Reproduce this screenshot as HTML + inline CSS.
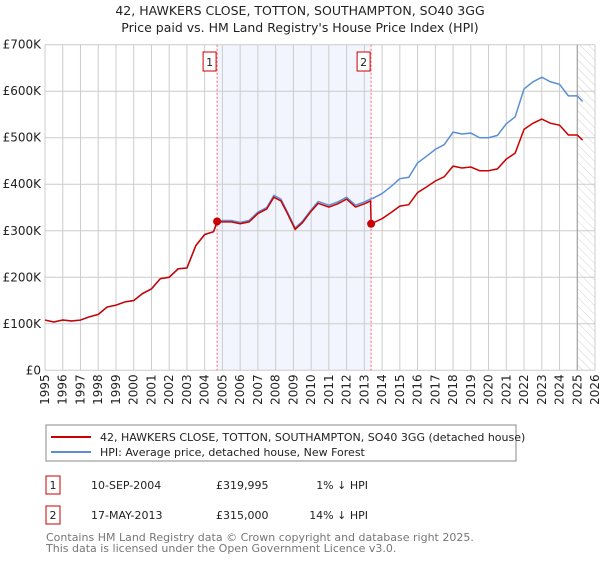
<!DOCTYPE html>
<html><head><meta charset="utf-8"><style>
body{margin:0;background:#fff;font-family:"DejaVu Sans","Liberation Sans",sans-serif;}
svg text{font-family:"DejaVu Sans","Liberation Sans",sans-serif;}
</style></head><body>
<svg id="chart" width="600" height="560" viewBox="0 0 600 560">
<defs><pattern id="hatch" width="6" height="6" patternUnits="userSpaceOnUse" patternTransform="rotate(-45)"><line x1="0" y1="0" x2="0" y2="6" stroke="#c8c8c8" stroke-width="0.8"/></pattern></defs>
<text x="300" y="15" text-anchor="middle" font-size="12.5" fill="#222">42, HAWKERS CLOSE, TOTTON, SOUTHAMPTON, SO40 3GG</text>
<text x="300" y="32" text-anchor="middle" font-size="12.5" fill="#222">Price paid vs. HM Land Registry's House Price Index (HPI)</text>
<g id="plot"></g>
<g id="legend">
<rect x="46" y="425" width="470" height="36" fill="#fff" stroke="#888"/>
<line x1="51" y1="437" x2="91" y2="437" stroke="#cc0000" stroke-width="2"/>
<text x="100" y="441" font-size="11" fill="#222">42, HAWKERS CLOSE, TOTTON, SOUTHAMPTON, SO40 3GG (detached house)</text>
<line x1="51" y1="452" x2="91" y2="452" stroke="#5b8fd4" stroke-width="2"/>
<text x="100" y="456" font-size="11" fill="#222">HPI: Average price, detached house, New Forest</text>
</g>
<g font-size="11" fill="#222">
<rect x="46" y="476" width="14" height="18" fill="#fff" stroke="#cc0000"/>
<text x="53" y="489" text-anchor="middle">1</text>
<text x="91" y="489">10-SEP-2004</text>
<text x="216" y="489">£319,995</text>
<text x="368" y="489" text-anchor="end">1% ↓ HPI</text>
<rect x="46" y="506" width="14" height="18" fill="#fff" stroke="#cc0000"/>
<text x="53" y="519" text-anchor="middle">2</text>
<text x="91" y="519">17-MAY-2013</text>
<text x="216" y="519">£315,000</text>
<text x="368" y="519" text-anchor="end">14% ↓ HPI</text>
</g>
<text x="46" y="541" font-size="11" fill="#777">Contains HM Land Registry data © Crown copyright and database right 2025.</text>
<text x="46" y="552" font-size="11" fill="#777">This data is licensed under the Open Government Licence v3.0.</text>
</svg>
<script>
const yearTicks=[1995,1996,1997,1998,1999,2000,2001,2002,2003,2004,2005,2006,2007,2008,2009,2010,2011,2012,2013,2014,2015,2016,2017,2018,2019,2020,2021,2022,2023,2024,2025,2026];
const valueTicks=[0,100,200,300,400,500,600,700];
const valueTickLabels=["£0","£100K","£200K","£300K","£400K","£500K","£600K","£700K"];
const hpiDates=[1995.0,1995.5,1996.0,1996.5,1997.0,1997.5,1998.0,1998.5,1999.0,1999.5,2000.0,2000.5,2001.0,2001.5,2002.0,2002.5,2003.0,2003.5,2004.0,2004.5,2004.7,2005.0,2005.5,2006.0,2006.5,2007.0,2007.5,2007.9,2008.3,2008.6,2009.1,2009.5,2010.0,2010.4,2011.0,2011.5,2012.0,2012.5,2013.0,2013.35,2013.5,2014.0,2014.5,2015.0,2015.5,2016.0,2016.5,2017.0,2017.5,2018.0,2018.5,2019.0,2019.5,2020.0,2020.5,2021.0,2021.5,2022.0,2022.5,2023.0,2023.5,2024.0,2024.5,2025.0,2025.3];
const hpiValues=[108,104,108,106,108,115,120,136,140,147,150,165,175,197,200,218,220,268,292,298,317,322,322,318,322,340,350,376,368,345,306,320,345,363,355,362,372,355,362,368,370,380,395,412,415,446,460,475,485,512,508,510,500,500,505,530,545,605,620,630,620,615,590,590,578];
const priceDates=[1995.0,1995.5,1996.0,1996.5,1997.0,1997.5,1998.0,1998.5,1999.0,1999.5,2000.0,2000.5,2001.0,2001.5,2002.0,2002.5,2003.0,2003.5,2004.0,2004.5,2004.7,2005.0,2005.5,2006.0,2006.5,2007.0,2007.5,2007.9,2008.3,2008.6,2009.1,2009.5,2010.0,2010.4,2011.0,2011.5,2012.0,2012.5,2013.0,2013.35,2013.38,2013.5,2014.0,2014.5,2015.0,2015.5,2016.0,2016.5,2017.0,2017.5,2018.0,2018.5,2019.0,2019.5,2020.0,2020.5,2021.0,2021.5,2022.0,2022.5,2023.0,2023.5,2024.0,2024.5,2025.0,2025.3];
const priceValues=[108,104,108,106,108,115,120,136,140,147,150,165,175,197,200,218,220,268,292,298,320,319,319,315,319,337,347,372,364,342,303,317,342,359,351,358,368,351,358,364,315,317,326,339,353,356,382,394,407,416,439,435,437,429,429,433,454,467,518,531,540,531,527,506,506,495];
const saleDates=[2004.7,2013.38];
const saleValues=[320,315];
const saleLabels=["1","2"];

const X0=45,X1=595,Y0=370.3,Y1=44.7,T0=1995,T1=2026,V1=700;
const xs=t=>X0+(t-T0)/(T1-T0)*(X1-X0);
const ys=v=>Y0-v/V1*(Y0-Y1);
const NS="http://www.w3.org/2000/svg";
const plot=document.getElementById('plot');
function mk(tag,attrs,parent){const e=document.createElementNS(NS,tag);for(const k in attrs)e.setAttribute(k,attrs[k]);(parent||plot).appendChild(e);return e;}

let r=mk('rect',{x:xs(saleDates[0]),y:Y1,width:xs(saleDates[1])-xs(saleDates[0]),height:Y0-Y1,fill:'#f2f5fd'});


let h=mk('rect',{x:xs(2025),y:Y1,width:X1-xs(2025),height:Y0-Y1,fill:'url(#hatch)'});



yearTicks.forEach(t=>{
  const l=mk('line',{x1:xs(t),x2:xs(t),y1:Y1,y2:Y0,stroke:'#ccc','stroke-width':1});
  
  
  const tx=mk('text',{x:0,y:0,'font-size':12,fill:'#222','text-anchor':'end',transform:`translate(${xs(t)+4},${Y0+4}) rotate(-90)`});
  tx.textContent=t;
  
  
});
valueTicks.forEach((v,i)=>{
  const l=mk('line',{x1:X0,x2:X1,y1:ys(v),y2:ys(v),stroke:'#ccc','stroke-width':1});
  
  
  const tx=mk('text',{x:X0-4,y:ys(v)+4,'font-size':12,fill:'#222','text-anchor':'end'});
  tx.textContent=valueTickLabels[i];
  
  
});
let nl=mk('line',{x1:xs(2025),x2:xs(2025),y1:Y1,y2:Y0,stroke:'#999','stroke-width':1});



saleDates.forEach((d,i)=>{
  const l=mk('line',{x1:xs(d),x2:xs(d),y1:Y1,y2:Y0,stroke:'#ff6666','stroke-width':1,'stroke-dasharray':'2,2'});
  
  
  const b=mk('rect',{x:xs(d)-14,y:52,width:13,height:19,fill:'#fff',stroke:'#cc0000'});
  
  
  const tx=mk('text',{x:xs(d)-7.5,y:66,'font-size':11,fill:'#222','text-anchor':'middle'});
  tx.textContent=saleLabels[i];
  
  
});

const hp=mk('polyline',{points:hpiDates.map((t,i)=>xs(t)+','+ys(hpiValues[i])).join(' '),fill:'none',stroke:'#5b8fd4','stroke-width':1.5});


const pp=mk('polyline',{points:priceDates.map((t,i)=>xs(t)+','+ys(priceValues[i])).join(' '),fill:'none',stroke:'#cc0000','stroke-width':1.5});


saleDates.forEach((d,i)=>{
  const c=mk('circle',{cx:xs(d),cy:ys(saleValues[i]),r:4,fill:'#cc0000'});
  
  
});
</script>
</body></html>
